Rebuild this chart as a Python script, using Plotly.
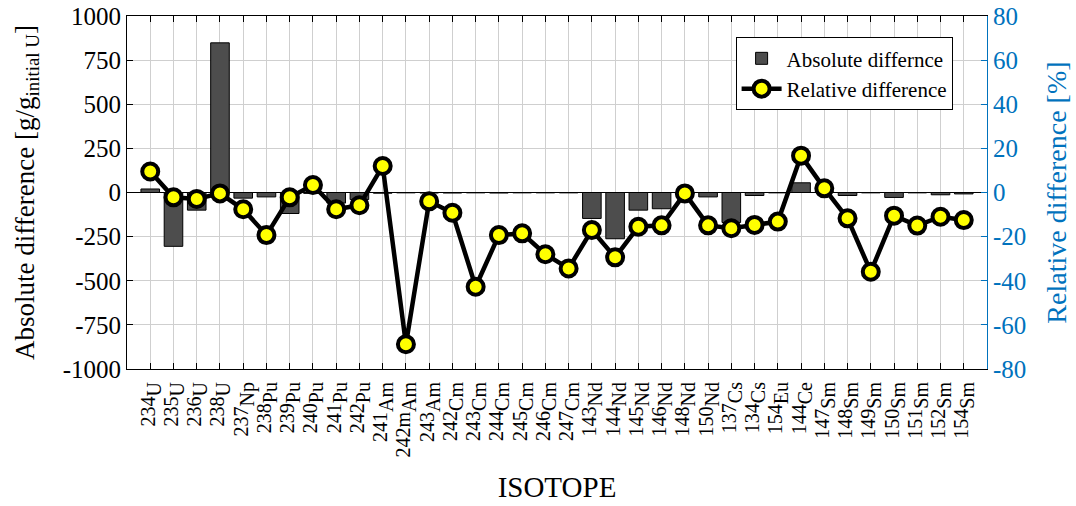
import plotly.graph_objects as go

# Isotope labels: mass number and element symbol
mass_numbers = ["234", "235", "236", "238", "237", "238", "239", "240", "241", "242",
                "241", "242m", "243", "242", "243", "244", "245", "246", "247",
                "143", "144", "145", "146", "148", "150", "137", "134", "154", "144",
                "147", "148", "149", "150", "151", "152", "154"]
elements = ["U", "U", "U", "U", "Np", "Pu", "Pu", "Pu", "Pu", "Pu",
            "Am", "Am", "Am", "Cm", "Cm", "Cm", "Cm", "Cm", "Cm",
            "Nd", "Nd", "Nd", "Nd", "Nd", "Nd", "Cs", "Cs", "Eu", "Ce",
            "Sm", "Sm", "Sm", "Sm", "Sm", "Sm", "Sm"]

# Absolute difference [g/g initial U]
absolute_diff = [20, -305, -100, 848, -32, -25, -119, -5, -60, -40,
                 -4, -2, -3, -3, -2, -3, -2, -2, -2,
                 -147, -262, -100, -92, -5, -25, -170, -17, -2, 55,
                 4, -17, -2, -28, -2, -13, -8]

# Relative difference [%]
relative_diff = [9.5, -2.2, -2.9, -0.4, -7.6, -19.3, -2.2, 3.4, -7.6, -5.8,
                 12.0, -68.8, -4.0, -9.2, -42.7, -19.3, -18.5, -28.0, -34.4,
                 -17.0, -29.4, -15.5, -14.9, -0.4, -14.9, -16.2, -14.7, -13.2, 16.7,
                 1.9, -11.7, -35.9, -10.5, -15.0, -11.0, -12.5]

left_ticks = [1000, 750, 500, 250, 0, -250, -500, -750, -1000]
right_ticks = [80, 60, 40, 20, 0, -20, -40, -60, -80]

FONT = "Liberation Serif"
BLUE = "#0072BD"
GRID = "#cfcfcf"
LABEL_SIZE = 20

positions = list(range(len(elements)))
# element symbol set slightly below the mass number, both at full size
# (sub renders at 70% of its parent, so the parent span is enlarged)
sub_parent = round(LABEL_SIZE / 0.7, 1)
tick_text = [f'{m}<span style="font-size:{sub_parent}px"><sub>{e}</sub></span>'
             for m, e in zip(mass_numbers, elements)]

fig = go.Figure()

fig.add_trace(go.Bar(
    x=positions, y=absolute_diff, name="Absolute differnce",
    width=0.8, marker=dict(color="#4d4d4d", line=dict(color="black", width=1)),
    yaxis="y",
))

fig.add_trace(go.Scatter(
    x=positions, y=relative_diff, name="Relative difference",
    mode="lines+markers", yaxis="y2",
    line=dict(color="black", width=4.5),
    marker=dict(color="#ffff00", size=16, line=dict(color="black", width=4)),
))

fig.update_layout(
    width=1076, height=506,
    margin=dict(l=127, r=89, t=16, b=137),
    paper_bgcolor="white", plot_bgcolor="white",
    font=dict(family=FONT, size=24, color="black"),
    showlegend=True,
    legend=dict(
        x=0.96, y=0.94, xanchor="right", yanchor="top",
        bgcolor="white", bordercolor="black", borderwidth=1,
        font=dict(family=FONT, size=21, color="black"),
        tracegroupgap=0, itemwidth=40,
    ),
    xaxis=dict(
        range=[-1, len(elements)],
        tickmode="array", tickvals=positions, ticktext=tick_text,
        tickangle=-90, tickfont=dict(family=FONT, size=LABEL_SIZE),
        ticks="inside", ticklen=6, tickcolor="black", ticklabelstandoff=4,
        ticklabelshift=-2,
        showline=True, linecolor="black", linewidth=1, mirror="ticks",
        showgrid=True, gridcolor=GRID, gridwidth=1,
        title=dict(text="ISOTOPE", font=dict(family=FONT, size=29), standoff=20),
        automargin=False,
    ),
    yaxis=dict(
        range=[-1000, 1000],
        tickmode="array", tickvals=left_ticks, ticktext=[str(v) for v in left_ticks],
        tickfont=dict(family=FONT, size=25),
        ticks="inside", ticklen=6, tickcolor="black",
        showline=True, linecolor="black", linewidth=1,
        showgrid=True, gridcolor=GRID, gridwidth=1,
        zeroline=True, zerolinecolor="black", zerolinewidth=1,
        title=dict(text="Absolute difference [g/g<sub>initial U</sub>]",
                   font=dict(family=FONT, size=27), standoff=20),
        automargin=False,
    ),
    yaxis2=dict(
        range=[-80, 80], overlaying="y", side="right",
        tickmode="array", tickvals=right_ticks, ticktext=[str(v) for v in right_ticks],
        tickfont=dict(family=FONT, size=25, color=BLUE),
        ticks="inside", ticklen=6, tickcolor=BLUE,
        showline=True, linecolor=BLUE, linewidth=1,
        showgrid=False, zeroline=False,
        title=dict(text="Relative difference [%]",
                   font=dict(family=FONT, size=28, color=BLUE), standoff=21),
        automargin=False,
    ),
)

fig.write_html("out.html")
